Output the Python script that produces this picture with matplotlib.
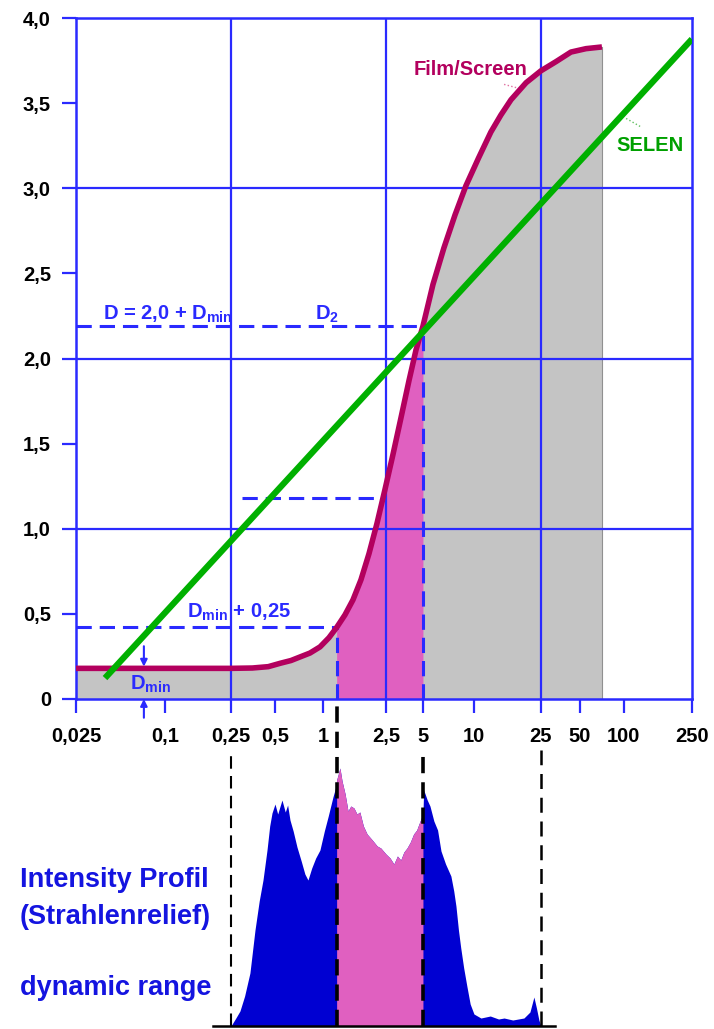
import matplotlib
matplotlib.use("Agg")
import numpy as np
import matplotlib.pyplot as plt
from matplotlib.ticker import FixedLocator, NullLocator

plt.rcParams['font.family'] = ['Liberation Sans', 'DejaVu Sans']
plt.rcParams['font.weight'] = 'bold'
plt.rcParams['mathtext.fontset'] = 'custom'
plt.rcParams['mathtext.rm'] = 'Liberation Sans:bold'
plt.rcParams['mathtext.it'] = 'Liberation Sans:bold'
plt.rcParams['mathtext.bf'] = 'Liberation Sans:bold'

# ---------------- data ----------------
x_ticks = [0.025, 0.1, 0.25, 0.5, 1, 2.5, 5, 10, 25, 50, 100, 250]
x_labels = ['0,025', '0,1', '0,25', '0,5', '1', '2,5', '5', '10', '25', '50', '100', '250']
y_ticks = [0, 0.5, 1.0, 1.5, 2.0, 2.5, 3.0, 3.5, 4.0]
y_labels = ['0', '0,5', '1,0', '1,5', '2,0', '2,5', '3,0', '3,5', '4,0']

# the hand drawn log axis is not quite even: fraction of axis width at each tick
x_tick_frac = [0.0, 0.1445, 0.2516, 0.3231, 0.401, 0.5032, 0.5633, 0.6461,
               0.7549, 0.8182, 0.8896, 1.0]

# Film/Screen characteristic curve
film_x = [0.025, 0.1, 0.25, 0.35, 0.45, 0.54, 0.63, 0.718, 0.829, 0.958, 1.091, 1.22,
          1.377, 1.547, 1.738, 1.953, 2.193, 2.465, 2.85, 3.31, 3.85, 4.39, 5.0,
          5.73, 6.65, 7.73, 8.97, 10.63, 12.6, 14.45, 16.6, 20.4, 25, 32.7, 42.6, 55, 70.7]
film_d = [0.18, 0.18, 0.18, 0.182, 0.19, 0.21, 0.226, 0.247, 0.27, 0.306, 0.36, 0.42,
          0.494, 0.582, 0.70, 0.853, 1.03, 1.23, 1.435, 1.65, 1.87, 2.05, 2.19,
          2.435, 2.65, 2.843, 3.015, 3.176, 3.33, 3.43, 3.52, 3.62, 3.69, 3.744, 3.80, 3.82, 3.83]

# SELEN (straight line)
selen_x = [0.0393, 250]
selen_d = [0.123, 3.876]

# reference levels
d_high = 2.19     # D = 2,0 + Dmin
d_low = 0.42      # Dmin + 0,25
d_mid = 1.18
x_low = 1.22
x_high = 5.0

# intensity profile (Strahlenrelief)
hist_x = [0.25, 0.27, 0.288, 0.31, 0.337, 0.365, 0.39, 0.414, 0.441, 0.46, 0.477,
          0.50, 0.52, 0.553, 0.58, 0.60, 0.621, 0.65, 0.687, 0.73, 0.77, 0.805,
          0.85, 0.9, 0.957, 1.02, 1.08, 1.156, 1.2, 1.22,
          1.25, 1.28, 1.32, 1.38, 1.44, 1.5, 1.57, 1.64, 1.71, 1.8, 1.9, 2.05, 2.2,
          2.32, 2.5, 2.7, 2.9, 3.1, 3.3, 3.5, 3.71, 3.95, 4.2, 4.45, 4.64, 4.85, 5.0,
          5.05, 5.15, 5.3, 5.5, 5.8, 6.1, 6.39, 6.8, 7.31, 7.6, 7.83, 8.1, 8.36,
          8.7, 9.08, 9.5, 10, 11, 12.5, 14, 15.1, 17, 19.8, 21.5, 22.7, 23.5, 24.3, 25]
hist_h = [0, 8, 15, 30, 53, 96, 125, 146, 176, 200, 213,
          222, 212, 226, 214, 221, 206, 195, 179, 165, 152, 146,
          158, 168, 176, 195, 210, 229, 238, 246,
          252, 258, 245, 232, 215, 220, 218, 212, 214, 200, 192, 186, 180,
          178, 172, 168, 162, 170, 166, 174, 178, 184, 192, 196, 202, 208, 212,
          236, 232, 226, 220, 205, 196, 175, 162, 150, 135, 120, 96, 78,
          58, 40, 22, 12, 8, 10, 7, 8, 6, 8, 14, 29, 18, 6, 0]

blue = '#2a2aff'
crimson = '#b3005e'
green = '#00b000'
pink = '#e060c0'


# ---------------- axis scale ----------------
tick_log = np.log10(x_ticks)


def fwd(x):
    x = np.asarray(x, dtype=float)
    return np.interp(np.log10(np.clip(x, 1e-6, None)), tick_log, x_tick_frac)


def inv(p):
    return 10 ** np.interp(p, x_tick_frac, tick_log)


# ---------------- figure ----------------
fig = plt.figure(figsize=(7.14, 10.29), dpi=100)
ax = fig.add_axes([0.1064, 0.3207, 0.8627, 0.6618])
ax.set_xscale('function', functions=(fwd, inv))
ax.set_xlim(0.025, 250)
ax.set_ylim(0, 4)

fx = np.array(film_x)
fd = np.array(film_d)

# fills
ax.fill_between(fx, fd, color='#c4c4c4', lw=0, zorder=1)
ax.plot([fx[-1], fx[-1]], [0, fd[-1]], color='#909090', lw=0.8, zorder=1)
mask = (fx >= x_low) & (fx <= x_high)
ax.fill_between(fx[mask], fd[mask], color=pink, lw=0, zorder=1.5)

# grid
for gx in [0.25, 2.5, 25]:
    ax.axvline(gx, color=blue, lw=1.6, zorder=2)
for gy in [1, 2, 3]:
    ax.axhline(gy, color=blue, lw=1.6, zorder=2)

# dashed helper lines
dash = dict(color=blue, lw=2.2, dashes=(5, 2.6), zorder=3)
ax.plot([0.025, x_high], [d_high, d_high], **dash)
ax.plot([x_high, x_high], [0, d_high], **dash)
ax.plot([0.025, x_low], [d_low, d_low], **dash)
ax.plot([x_low, x_low], [0, d_low], **dash)
ax.plot([0.297, 2.4], [d_mid, d_mid], **dash)

# curves
ax.plot(fx, fd, color=crimson, lw=4, solid_capstyle='butt', solid_joinstyle='round', zorder=4)
ax.plot(selen_x, selen_d, color=green, lw=4.5, solid_capstyle='butt', zorder=5)

# labels
ax.text(9.5, 3.70, 'Film/Screen', color=crimson, fontsize=14.5, ha='center', va='center')
ax.plot([15.1, 18.0], [3.61, 3.59], color='#e070a0', lw=1, ls=':')
ax.text(142, 3.25, 'SELEN', color='#00a000', fontsize=14.5, ha='center', va='center')
ax.plot([103, 126], [3.41, 3.36], color='#60c060', lw=1, ls=':')

ax.text(0.038, 2.23, 'D = 2,0 + D$_{min}$', color=blue, fontsize=14.5, va='baseline')
ax.text(0.89, 2.23, 'D$_2$', color=blue, fontsize=14.5, va='baseline')
ax.text(0.136, 0.476, 'D$_{min}$ + 0,25', color=blue, fontsize=14.5, va='baseline')
ax.text(0.058, 0.055, 'D$_{min}$', color=blue, fontsize=14.5, va='baseline')

# Dmin arrows
arr = dict(arrowstyle='-|>', color=blue, lw=1.5, mutation_scale=10, shrinkA=0, shrinkB=0)
ax.annotate('', xy=(0.072, 0.19), xytext=(0.072, 0.31), arrowprops=arr)
ax.annotate('', xy=(0.072, 0.0), xytext=(0.072, -0.11), arrowprops=arr,
            annotation_clip=False)

# axes styling
for s in ax.spines.values():
    s.set_color(blue)
    s.set_linewidth(1.8)
ax.xaxis.set_major_locator(FixedLocator(x_ticks))
ax.xaxis.set_minor_locator(NullLocator())
ax.set_xticklabels(x_labels)
ax.set_yticks(y_ticks)
ax.set_yticklabels(y_labels)
ax.tick_params(axis='both', colors=blue, length=10, width=1.6, labelcolor='black',
               labelsize=14.5)
ax.tick_params(axis='x', pad=10)
ax.tick_params(axis='y', pad=8)

# ---------------- intensity profile ----------------
ax2 = fig.add_axes([0.1064, 0.0029, 0.8627, 0.3168], sharex=ax)
ax2.set_ylim(0, 326)
ax2.axis('off')

hx = np.array(hist_x)
hh = np.array(hist_h)
ax2.fill_between(hx, hh, color='#0000d2', lw=0)
pm = (hx >= x_low) & (hx <= x_high)
ax2.fill_between(hx[pm], hh[pm], color=pink, lw=0)

ax2.plot([0.195, 32], [0, 0], color='black', lw=1.8, clip_on=False)
ax2.plot([0.25, 0.25], [0, 276], color='black', lw=1.5, dashes=(6, 3.5))
ax2.plot([25, 25], [0, 276], color='black', lw=1.8, dashes=(6, 3.5))
ax2.plot([x_low, x_low], [0, 326], color='black', lw=2.6, dashes=(4.5, 2.5))
ax2.plot([x_high, x_high], [0, 276], color='black', lw=2.6, dashes=(4.5, 2.5))

txt_blue = '#1414e0'
fig.text(0.028, 1 - 887 / 1029, 'Intensity Profil', color=txt_blue, fontsize=19.5, va='baseline')
fig.text(0.028, 1 - 924 / 1029, '(Strahlenrelief)', color=txt_blue, fontsize=19.5, va='baseline')
fig.text(0.028, 1 - 995 / 1029, 'dynamic range', color=txt_blue, fontsize=19.5, va='baseline')

fig.savefig('out.png', dpi=100)
